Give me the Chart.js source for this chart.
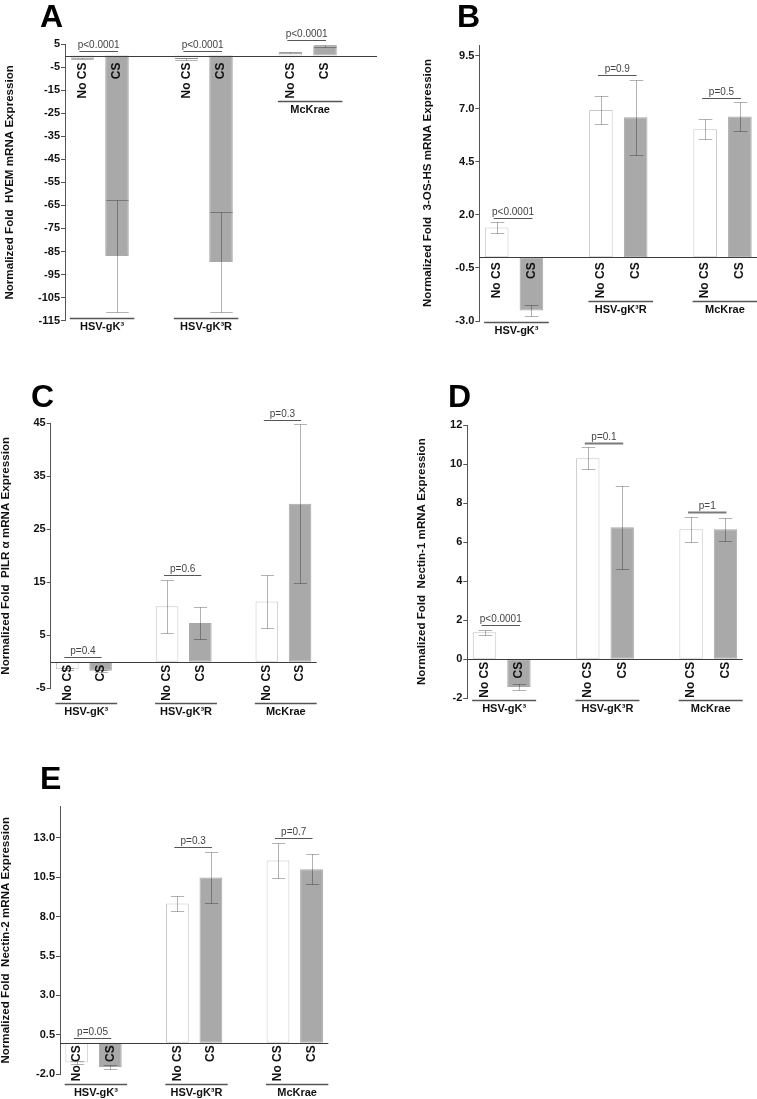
<!DOCTYPE html>
<html>
<head>
<meta charset="utf-8">
<title>Receptor mRNA expression after CS</title>
<script src="https://cdn.jsdelivr.net/npm/chart.js@4.4.1/dist/chart.umd.min.js"></script>
<style>
  body { margin: 0; background: #fff; overflow: hidden; }
  #fig { position: relative; width: 757px; height: 1099px; overflow: hidden; background: #fff; }
  #fig canvas { position: absolute; }
</style>
</head>
<body>
<div id="fig"></div>
<script>
const groups = ["HSV-gK³", "HSV-gK³R", "McKrae"];
const conditions = ["No CS", "CS"];

// A: HVEM
const hvemTicks = [5, -5, -15, -25, -35, -45, -55, -65, -75, -85, -95, -105, -115];
const hvemNoCS = [-1.2, -1.5, 1.4];
const hvemNoCSErr = [0.3, 0.6, 0.3];
const hvemCS = [-86.9, -89.5, 4.2];
const hvemCSErr = [24.2, 21.6, 0.4];
const hvemP = ["p<0.0001", "p<0.0001", "p<0.0001"];

// B: 3-OS-HS
const hsTicks = [9.5, 7.0, 4.5, 2.0, -0.5, -3.0];
const hsNoCS = [1.4, 6.94, 6.03];
const hsNoCSErr = [0.25, 0.65, 0.47];
const hsCS = [-2.5, 6.6, 6.63];
const hsCSErr = [0.25, 1.77, 0.68];
const hsP = ["p<0.0001", "p=0.9", "p=0.5"];

// C: PILR alpha
const pilrTicks = [45, 35, 25, 15, 5, -5];
const pilrNoCS = [-1.4, 10.5, 11.4];
const pilrNoCSErr = [0.2, 5.0, 5.05];
const pilrCS = [-1.7, 7.3, 29.8];
const pilrCSErr = [0.2, 3.0, 15.0];
const pilrP = ["p=0.4", "p=0.6", "p=0.3"];

// D: Nectin-1
const nec1Ticks = [12, 10, 8, 6, 4, 2, 0, -2];
const nec1NoCS = [1.38, 10.3, 6.66];
const nec1NoCSErr = [0.12, 0.57, 0.65];
const nec1CS = [-1.42, 6.76, 6.66];
const nec1CSErr = [0.13, 2.13, 0.6];
const nec1P = ["p<0.0001", "p=0.1", "p=1"];

// E: Nectin-2
const nec2Ticks = [13.0, 10.5, 8.0, 5.5, 3.0, 0.5, -2.0];
const nec2NoCS = [-1.25, 8.83, 11.56];
const nec2NoCSErr = [0.1, 0.47, 1.12];
const nec2CS = [-1.53, 10.48, 11.0];
const nec2CSErr = [0.12, 1.63, 0.94];
const nec2P = ["p=0.05", "p=0.3", "p=0.7"];

const FONT = "'Liberation Sans', Arial, sans-serif";
Chart.defaults.font.family = FONT;

// layout of each panel in page pixels
const panels = [
  { letter: "A", title: "Normalized Fold  HVEM mRNA Expression",
    noCS: hvemNoCS, noCSErr: hvemNoCSErr, cs: hvemCS, csErr: hvemCSErr, pText: hvemP, ticks: hvemTicks,
    min: -115, max: 5, decimals: 0, slots: 9,
    box: [0, 0, 380, 340], axisX: 65, top: 44, bottom: 320.7, right: 377,
    letterAt: [40, 27], labelGap: 7, capRatio: 0.95, bracketWidth: [1, 1, 1] },
  { letter: "B", title: "Normalized Fold  3-OS-HS mRNA Expression",
    noCS: hsNoCS, noCSErr: hsNoCSErr, cs: hsCS, csErr: hsCSErr, pText: hsP, ticks: hsTicks,
    min: -3, max: 10, decimals: 1, slots: 9,
    box: [380, 0, 412, 340], axisX: 479.3, top: 45.1, bottom: 321, right: 792,
    letterAt: [457, 27], labelGap: 5, capRatio: 0.58, bracketWidth: [1, 1, 1] },
  { letter: "C", title: "Normalized Fold  PILR α mRNA Expression",
    noCS: pilrNoCS, noCSErr: pilrNoCSErr, cs: pilrCS, csErr: pilrCSErr, pText: pilrP, ticks: pilrTicks,
    min: -5, max: 45, decimals: 0, slots: 8,
    box: [0, 340, 380, 400], axisX: 50.7, top: 423.3, bottom: 688.3, right: 316.7,
    letterAt: [31, 407], labelGap: 3, capRatio: 0.58, bracketWidth: [1, 1, 1] },
  { letter: "D", title: "Normalized Fold  Nectin-1 mRNA Expression",
    noCS: nec1NoCS, noCSErr: nec1NoCSErr, cs: nec1CS, csErr: nec1CSErr, pText: nec1P, ticks: nec1Ticks,
    min: -2, max: 12, decimals: 0, slots: 8,
    box: [380, 340, 377, 400], axisX: 467.3, top: 425, bottom: 698.3, right: 742.7,
    letterAt: [448, 407], labelGap: 2.5, capRatio: 0.58, bracketWidth: [1, 2, 2] },
  { letter: "E", title: "Normalized Fold  Nectin-2 mRNA Expression",
    noCS: nec2NoCS, noCSErr: nec2NoCSErr, cs: nec2CS, csErr: nec2CSErr, pText: nec2P, ticks: nec2Ticks,
    min: -2, max: 15, decimals: 1, slots: 8,
    box: [0, 720, 380, 379], axisX: 60, top: 806.2, bottom: 1074.3, right: 328.3,
    letterAt: [40, 789], labelGap: 2.5, capRatio: 0.58, bracketWidth: [1, 1, 1] }
];

function makeChart(p) {
  const [bx, by, bw, bh] = p.box;
  const canvas = document.createElement("canvas");
  canvas.width = bw;
  canvas.height = bh;
  canvas.style.left = bx + "px";
  canvas.style.top = by + "px";
  document.getElementById("fig").appendChild(canvas);

  let labels = [], values = [], fills = [], edges = [];
  groups.forEach((g, i) => {
    labels.push(conditions[0], conditions[1], "");
    values.push(p.noCS[i], p.cs[i], null);
    fills.push("#ffffff", "#a9a9a9", "#ffffff");
    edges.push("#c8c8c8", "#a9a9a9", "#ffffff");
  });
  labels = labels.slice(0, p.slots);
  values = values.slice(0, p.slots);

  const fmt = v => p.decimals ? v.toFixed(p.decimals) : String(v);

  const figure = {
    id: "figure",
    afterDatasetsDraw(chart) {
      const ctx = chart.ctx, x = chart.scales.x, y = chart.scales.y;
      const meta = chart.getDatasetMeta(0);
      ctx.save();
      // error bars
      ctx.strokeStyle = "rgba(0,0,0,0.3)";
      ctx.lineWidth = 1;
      groups.forEach((g, i) => {
        [[p.noCS, p.noCSErr, 3 * i], [p.cs, p.csErr, 3 * i + 1]].forEach(([v, e, idx]) => {
          const cx = Math.round(x.getPixelForValue(idx)) + 0.5;
          const cap = meta.data[idx].width * p.capRatio / 2;
          const hi = Math.round(y.getPixelForValue(v[i] + e[i])) + 0.5;
          const lo = Math.round(y.getPixelForValue(v[i] - e[i])) + 0.5;
          ctx.beginPath();
          ctx.moveTo(cx, hi); ctx.lineTo(cx, lo);
          ctx.moveTo(cx - cap, hi); ctx.lineTo(cx + cap, hi);
          ctx.moveTo(cx - cap, lo); ctx.lineTo(cx + cap, lo);
          ctx.stroke();
        });
      });
      // zero line
      const z = Math.round(y.getPixelForValue(0)) + 0.5;
      ctx.strokeStyle = "#3c3c3c";
      ctx.lineWidth = 1.2;
      ctx.beginPath();
      ctx.moveTo(chart.chartArea.left, z);
      ctx.lineTo(chart.chartArea.right, z);
      ctx.stroke();
      ctx.restore();
    },
    afterDraw(chart) {
      const ctx = chart.ctx, x = chart.scales.x, y = chart.scales.y, area = chart.chartArea;
      const z = y.getPixelForValue(0);
      const step = x.getPixelForValue(1) - x.getPixelForValue(0);
      ctx.save();

      // rotated condition labels
      ctx.font = `bold 12px ${FONT}`;
      ctx.fillStyle = "#111";
      ctx.textAlign = "right";
      ctx.textBaseline = "middle";
      const labelEnd = z + p.labelGap + ctx.measureText(conditions[0]).width;
      groups.forEach((g, i) => {
        [3 * i, 3 * i + 1].forEach(idx => {
          ctx.save();
          ctx.translate(x.getPixelForValue(idx), z + p.labelGap);
          ctx.rotate(-Math.PI / 2);
          ctx.fillText(labels[idx], 0, 0);
          ctx.restore();
        });
      });

      groups.forEach((g, i) => {
        const a = x.getPixelForValue(3 * i), b = x.getPixelForValue(3 * i + 1);
        // p-value bracket
        const top = Math.max(0, p.noCS[i] + p.noCSErr[i], p.cs[i] + p.csErr[i]);
        const ly = Math.round(y.getPixelForValue(top) - 4.5) + 0.5;
        ctx.strokeStyle = p.bracketWidth[i] > 1 ? "#7a7a7a" : "#555";
        ctx.lineWidth = p.bracketWidth[i];
        ctx.beginPath();
        ctx.moveTo(a - 3, ly);
        ctx.lineTo(b + 1, ly);
        ctx.stroke();
        ctx.font = `10px ${FONT}`;
        ctx.fillStyle = "#444";
        ctx.textAlign = "center";
        ctx.textBaseline = "bottom";
        ctx.fillText(p.pText[i], (a + b) / 2 - 1, ly - 1.5);

        // group underline and name
        const low = Math.min(0, p.noCS[i] - p.noCSErr[i], p.cs[i] - p.csErr[i]);
        const gy = Math.round(Math.max(labelEnd + 2.5, y.getPixelForValue(low) + 6)) + 0.5;
        const gx1 = a - 0.36 * step, gx2 = b + 0.5 * step;
        ctx.strokeStyle = "#555";
        ctx.lineWidth = 1.3;
        ctx.beginPath();
        ctx.moveTo(gx1, gy);
        ctx.lineTo(gx2, gy);
        ctx.stroke();
        ctx.font = `bold 11px ${FONT}`;
        ctx.fillStyle = "#111";
        ctx.textBaseline = "top";
        ctx.fillText(g, (gx1 + gx2) / 2, gy + 3);
      });

      // y axis title
      ctx.font = `bold 11px ${FONT}`;
      const widest = Math.max(...p.ticks.map(v => ctx.measureText(fmt(v)).width));
      ctx.font = `bold 11.6px ${FONT}`;
      ctx.save();
      ctx.translate(area.left - widest - 33, (area.top + area.bottom) / 2);
      ctx.rotate(-Math.PI / 2);
      ctx.textAlign = "center";
      ctx.textBaseline = "middle";
      ctx.fillStyle = "#111";
      ctx.fillText(p.title, 0, 0);
      ctx.restore();

      // panel letter
      ctx.font = `bold 32px ${FONT}`;
      ctx.fillStyle = "#000";
      ctx.textAlign = "left";
      ctx.textBaseline = "alphabetic";
      ctx.fillText(p.letter, p.letterAt[0] - bx, p.letterAt[1] - by);
      ctx.restore();
    }
  };

  new Chart(canvas, {
    type: "bar",
    data: {
      labels: labels,
      datasets: [{
        data: values,
        backgroundColor: fills,
        borderColor: edges,
        borderWidth: 1,
        borderSkipped: false,
        barPercentage: 0.68,
        categoryPercentage: 1
      }]
    },
    options: {
      responsive: false,
      animation: false,
      devicePixelRatio: 1,
      layout: {
        padding: { left: 0, top: p.top - by, bottom: by + bh - p.bottom, right: bx + bw - p.right }
      },
      plugins: { legend: { display: false }, tooltip: { enabled: false } },
      scales: {
        x: { display: false, offset: true, grid: { display: false } },
        y: {
          min: p.min,
          max: p.max,
          afterFit: s => { s.width = p.axisX - bx; },
          afterBuildTicks: s => { s.ticks = p.ticks.map(v => ({ value: v })); },
          ticks: {
            autoSkip: false,
            padding: 1,
            color: "#111",
            font: { size: 11, weight: "bold" },
            callback: v => fmt(v)
          },
          grid: { display: true, drawOnChartArea: false, drawTicks: true, tickLength: 4, color: "#555" },
          border: { display: true, color: "#555", width: 1 }
        }
      }
    },
    plugins: [figure]
  });
}

panels.forEach(makeChart);
</script>
</body>
</html>
